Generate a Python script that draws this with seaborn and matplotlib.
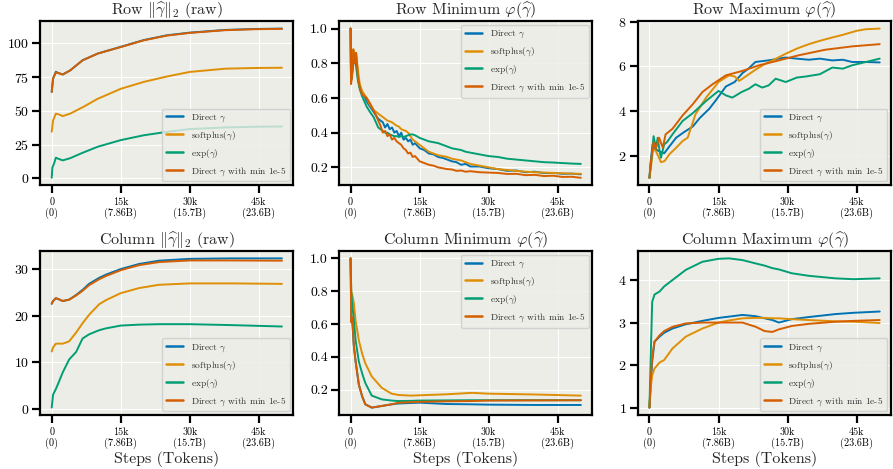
import numpy as np
import pandas as pd
import matplotlib
matplotlib.use("Agg")
import matplotlib.pyplot as plt
import seaborn as sns

# ---------------------------------------------------------------- labels
methods = [r"Direct $\gamma$", r"softplus($\gamma$)", r"exp($\gamma$)",
           r"Direct $\gamma$ with min 1e-5"]
titles = [r"Row $\|\widehat{\gamma}\|_2$ (raw)",
          r"Row Minimum $\varphi(\widehat{\gamma})$",
          r"Row Maximum $\varphi(\widehat{\gamma})$",
          r"Column $\|\widehat{\gamma}\|_2$ (raw)",
          r"Column Minimum $\varphi(\widehat{\gamma})$",
          r"Column Maximum $\varphi(\widehat{\gamma})$"]
tick_steps = [0, 15000, 30000, 45000]
tick_labels = ["0\n(0)", "15k\n(7.86B)", "30k\n(15.7B)", "45k\n(23.6B)"]

# ---------------------------------------------------------------- row norm (steps in k)
rn_steps = [0, 0.3, 0.9, 1.5, 2.4, 4, 6.7, 10, 15, 20, 25, 30, 37.7, 44, 50]
rn_direct = [64, 74, 79, 78, 77, 80, 87.5, 92.5, 97.5, 102.5, 106, 108, 110, 110.7, 111]
rn_soft = [34.6, 43, 48, 47.5, 46.2, 48, 52.7, 59, 66.4, 71.5, 75.5, 78.9, 81.3, 81.8, 82]
rn_exp_steps = [0, 0.15, 0.5, 0.9, 1.5, 2.4, 4, 6.7, 10, 15, 20, 25, 30, 37.7, 44, 50]
rn_exp = [0.5, 8, 11, 15.4, 14.5, 13.4, 15, 19, 23.5, 28.4, 32, 34.5, 36.6, 37.8, 38.3, 38.5]
rn_min = [64, 74, 78.5, 78, 77, 80, 87.5, 92.5, 97.3, 102.3, 105.8, 107.8, 109.8, 110.5, 110.8]

# ---------------------------------------------------------------- row minimum
rmin_steps = [0, 0.1, 0.3, 0.6, 0.9, 1.2, 1.6, 2.0, 2.5, 3.0, 3.5, 4.2, 5, 5.5, 6, 6.5,
              7, 7.5, 8, 8.5, 9, 9.5, 10, 10.5, 11, 11.5, 12, 12.5, 13, 13.5, 14, 15,
              16, 17, 18, 19, 20, 21, 22, 23, 24, 25, 26, 28, 30, 32, 34, 36, 38, 40,
              42, 44, 46, 48, 50]
rmin_direct = [1.0, 0.70, 0.72, 0.86, 0.80, 0.84, 0.72, 0.66, 0.63, 0.61, 0.58, 0.55,
               0.52, 0.50, 0.48, 0.47, 0.46, 0.43, 0.45, 0.42, 0.43, 0.40, 0.41, 0.38,
               0.40, 0.36, 0.37, 0.35, 0.36, 0.33, 0.34, 0.31, 0.30, 0.28, 0.275, 0.26,
               0.255, 0.245, 0.235, 0.23, 0.215, 0.22, 0.205, 0.205, 0.195, 0.19, 0.18,
               0.182, 0.172, 0.175, 0.167, 0.168, 0.163, 0.164, 0.16]
rmin_soft = [1.0, 0.72, 0.74, 0.88, 0.83, 0.86, 0.76, 0.68, 0.64, 0.62, 0.60, 0.56,
             0.53, 0.52, 0.51, 0.50, 0.49, 0.48, 0.47, 0.465, 0.46, 0.45, 0.44, 0.435,
             0.42, 0.415, 0.41, 0.40, 0.38, 0.36, 0.35, 0.33, 0.31, 0.29, 0.28, 0.27,
             0.265, 0.26, 0.25, 0.245, 0.24, 0.23, 0.22, 0.21, 0.20, 0.19, 0.185, 0.18,
             0.175, 0.172, 0.17, 0.168, 0.166, 0.164, 0.163]
rmin_exp = [1.0, 0.70, 0.73, 0.80, 0.85, 0.78, 0.70, 0.65, 0.61, 0.58, 0.55, 0.52,
            0.49, 0.46, 0.43, 0.42, 0.41, 0.40, 0.40, 0.39, 0.385, 0.38, 0.38, 0.375,
            0.38, 0.375, 0.38, 0.385, 0.39, 0.39, 0.385, 0.37, 0.36, 0.35, 0.345, 0.34,
            0.33, 0.32, 0.31, 0.305, 0.30, 0.29, 0.285, 0.275, 0.265, 0.26, 0.25, 0.245,
            0.24, 0.235, 0.23, 0.228, 0.225, 0.222, 0.22]
rmin_min = [1.0, 0.68, 0.72, 0.88, 0.80, 0.86, 0.72, 0.66, 0.62, 0.61, 0.60, 0.57,
            0.53, 0.50, 0.47, 0.44, 0.40, 0.41, 0.38, 0.39, 0.36, 0.37, 0.35, 0.34,
            0.33, 0.31, 0.30, 0.28, 0.285, 0.26, 0.265, 0.235, 0.225, 0.215, 0.21,
            0.20, 0.195, 0.19, 0.188, 0.18, 0.182, 0.175, 0.178, 0.172, 0.17, 0.168,
            0.162, 0.163, 0.155, 0.157, 0.15, 0.152, 0.145, 0.146, 0.14]

# ---------------------------------------------------------------- row maximum
rmax_direct_steps = [0, 0.3, 0.7, 1.2, 2.0, 3.2, 4.3, 5.8, 7.5, 9.4, 11, 13, 14.5,
                     16.6, 18.5, 20.2, 21.5, 23, 25, 26.7, 28, 29.6, 32, 34.6, 37,
                     39.7, 42, 44, 47, 50]
rmax_direct = [1.0, 1.8, 2.5, 2.3, 2.2, 2.1, 2.4, 2.8, 3.05, 3.3, 3.7, 4.1, 4.5,
               5.1, 5.3, 5.7, 5.9, 6.2, 6.25, 6.3, 6.35, 6.4, 6.35, 6.3, 6.35,
               6.27, 6.3, 6.2, 6.2, 6.18]
rmax_soft_steps = [0, 0.4, 0.8, 1.4, 2.5, 3.3, 4.3, 5.8, 7.2, 8.3, 10, 12.3, 15, 17.3,
                   18.5, 19.5, 21.6, 23, 25, 27.5, 29.6, 32, 34.6, 37, 39.7, 42, 45,
                   47, 50]
rmax_soft = [1.0, 1.6, 2.3, 2.2, 1.7, 1.75, 2.05, 2.35, 2.65, 2.8, 3.85, 4.6, 5.3, 5.6,
             5.55, 5.35, 5.65, 5.85, 6.1, 6.35, 6.57, 6.8, 7.0, 7.15, 7.3, 7.42, 7.6,
             7.67, 7.7]
rmax_exp_steps = [0, 0.3, 0.6, 0.9, 1.4, 1.8, 2.2, 2.5, 3.2, 3.8, 5.0, 7.2, 9.4, 12.3,
                  15, 16.6, 18, 20, 21.6, 23, 24.5, 25.9, 27.4, 29.6, 32, 34, 37, 39.7,
                  42, 44, 47, 50]
rmax_exp = [1.0, 1.6, 2.2, 2.87, 2.35, 2.8, 2.2, 1.9, 2.5, 2.6, 2.95, 3.55, 3.9, 4.45,
            4.9, 4.7, 4.6, 4.85, 5.0, 5.2, 5.05, 5.15, 5.45, 5.3, 5.5, 5.55, 5.65,
            5.95, 5.9, 6.05, 6.2, 6.35]
rmax_min_steps = [0, 0.3, 0.9, 1.4, 2.1, 2.9, 3.5, 5.0, 7.2, 9.4, 11.5, 13.7, 16.6,
                  20.2, 23.8, 28.1, 32.4, 38.2, 44, 50]
rmax_min = [1.0, 1.7, 2.6, 2.3, 2.8, 2.35, 2.95, 3.2, 3.8, 4.3, 4.85, 5.2, 5.6, 5.8,
            6.05, 6.27, 6.5, 6.75, 6.9, 7.0]

# ---------------------------------------------------------------- column norm
cn_steps = [0, 0.3, 0.9, 1.5, 2.4, 3.8, 5.3, 6.7, 8.1, 10.3, 11.8, 15, 19, 23.3, 30,
            39, 50]
cn_direct = [22.6, 23.2, 23.8, 23.6, 23.2, 23.5, 24.5, 25.6, 26.9, 28.2, 28.9, 30.1,
             31.2, 31.9, 32.3, 32.4, 32.4]
cn_soft = [12.3, 13.2, 14.0, 14.0, 14.0, 14.5, 16.4, 18.4, 20.2, 22.5, 23.4, 24.9,
           26.0, 26.7, 27.0, 27.0, 26.9]
cn_exp = [0.2, 3.0, 4.2, 5.6, 7.8, 10.6, 12.2, 15.1, 16.0, 16.9, 17.3, 17.9, 18.1,
          18.2, 18.2, 18.0, 17.7]
cn_min = [22.6, 23.2, 23.8, 23.6, 23.2, 23.5, 24.4, 25.4, 26.6, 27.9, 28.6, 29.85,
          30.95, 31.6, 31.95, 31.95, 31.9]

# ---------------------------------------------------------------- column minimum
cmin_steps = [0, 0.15, 0.35, 0.7, 1.1, 1.8, 2.5, 3.2, 4.6, 6.8, 8.9, 10.4, 13, 15,
              20.7, 26.4, 30, 40, 50]
cmin_direct = [1.0, 0.62, 0.63, 0.47, 0.37, 0.23, 0.16, 0.11, 0.09, 0.10, 0.11,
               0.115, 0.118, 0.12, 0.112, 0.11, 0.108, 0.106, 0.106]
cmin_soft = [1.0, 0.80, 0.78, 0.73, 0.62, 0.50, 0.42, 0.36, 0.28, 0.21, 0.175, 0.167,
             0.163, 0.165, 0.171, 0.18, 0.175, 0.17, 0.163]
cmin_exp = [1.0, 0.79, 0.72, 0.63, 0.50, 0.37, 0.30, 0.24, 0.163, 0.14, 0.133, 0.13,
            0.131, 0.133, 0.134, 0.135, 0.135, 0.135, 0.135]
cmin_min = [1.0, 0.61, 0.64, 0.47, 0.37, 0.23, 0.16, 0.11, 0.09, 0.10, 0.11, 0.12,
            0.123, 0.125, 0.128, 0.13, 0.133, 0.134, 0.135]

# ---------------------------------------------------------------- column maximum
cmax_steps = [0, 0.3, 0.6, 1.1, 2.2, 3.2, 5.0, 7.9, 11.5, 15, 17.3, 20.2, 23.1, 25.0,
              26.7, 28.1, 30.9, 34.6, 40.4, 44.3, 50]
cmax_direct = [1.0, 1.6, 2.08, 2.55, 2.67, 2.76, 2.86, 2.96, 3.04, 3.11, 3.14, 3.18,
               3.15, 3.1, 3.06, 3.0, 3.08, 3.13, 3.2, 3.23, 3.26]
cmax_soft = [1.0, 1.5, 1.76, 1.92, 2.06, 2.12, 2.39, 2.67, 2.86, 3.0, 3.05, 3.1, 3.11,
             3.11, 3.1, 3.1, 3.08, 3.06, 3.03, 3.02, 2.99]
cmax_exp = [1.0, 2.31, 3.49, 3.66, 3.73, 3.85, 4.0, 4.24, 4.43, 4.5, 4.51, 4.47, 4.39,
            4.34, 4.28, 4.25, 4.16, 4.1, 4.04, 4.02, 4.04]
cmax_min = [1.0, 1.7, 2.2, 2.55, 2.7, 2.8, 2.9, 2.98, 3.0, 3.0, 3.0, 3.0, 2.9, 2.8,
            2.78, 2.84, 2.92, 2.97, 3.02, 3.04, 3.06]

panels = [
    [(rn_steps, rn_direct), (rn_steps, rn_soft), (rn_exp_steps, rn_exp), (rn_steps, rn_min)],
    [(rmin_steps, rmin_direct), (rmin_steps, rmin_soft), (rmin_steps, rmin_exp),
     (rmin_steps, rmin_min)],
    [(rmax_direct_steps, rmax_direct), (rmax_soft_steps, rmax_soft),
     (rmax_exp_steps, rmax_exp), (rmax_min_steps, rmax_min)],
    [(cn_steps, cn_direct), (cn_steps, cn_soft), (cn_steps, cn_exp), (cn_steps, cn_min)],
    [(cmin_steps, cmin_direct), (cmin_steps, cmin_soft), (cmin_steps, cmin_exp),
     (cmin_steps, cmin_min)],
    [(cmax_steps, cmax_direct), (cmax_steps, cmax_soft), (cmax_steps, cmax_exp),
     (cmax_steps, cmax_min)],
]
legend_loc = ["lower right", "upper right", "lower right",
              "lower right", "upper right", "lower right"]
y_ticks = [[0, 25, 50, 75, 100], [0.2, 0.4, 0.6, 0.8, 1.0], [2, 4, 6, 8],
           [0, 10, 20, 30], [0.2, 0.4, 0.6, 0.8, 1.0], [1, 2, 3, 4]]

# ---------------------------------------------------------------- style
sns.set_theme(style="ticks", palette="colorblind")
plt.rcParams.update({
    "font.family": "serif",
    "font.serif": ["cmr10"],
    "mathtext.fontset": "cm",
    "axes.unicode_minus": False,
    "axes.formatter.use_mathtext": True,
    "axes.facecolor": "#ECEDE7",
    "axes.edgecolor": "black",
    "axes.linewidth": 1.6,
    "grid.color": "white",
    "grid.linewidth": 0.8,
    "xtick.major.size": 6, "ytick.major.size": 6,
    "xtick.major.width": 1.6, "ytick.major.width": 1.6,
    "xtick.color": "black", "ytick.color": "black",
})
palette = sns.color_palette("colorblind", 4)

fig, axes = plt.subplots(2, 3, figsize=(8.93, 4.69), dpi=100)
fig.subplots_adjust(left=0.045, right=0.998, top=0.955, bottom=0.115,
                    wspace=0.18, hspace=0.40)

for i, ax in enumerate(axes.flat):
    rows = []
    for name, (xs, ys) in zip(methods, panels[i]):
        for x, y in zip(xs, ys):
            rows.append({"step": x * 1000, "value": y, "method": name})
    df = pd.DataFrame(rows)
    sns.lineplot(data=df, x="step", y="value", hue="method", hue_order=methods,
                 palette=palette, estimator=None, sort=False, linewidth=1.4, ax=ax)
    ax.grid(True)
    ax.set_axisbelow(True)
    ax.set_title(titles[i], fontsize=11.5, pad=2)
    ax.set_xticks(tick_steps)
    ax.set_xticklabels(tick_labels, fontsize=7.3, linespacing=1.1)
    ax.set_yticks(y_ticks[i])
    if i in (1, 4):
        ax.set_yticklabels([f"{v:.1f}" for v in y_ticks[i]])
    ax.tick_params(axis="y", labelsize=10, pad=2)
    ax.tick_params(axis="x", pad=3)
    ax.set_ylabel("")
    if i >= 3:
        ax.set_xlabel("Steps (Tokens)", fontsize=11.5, labelpad=1)
    else:
        ax.set_xlabel("")
    ax.margins(x=0.05, y=0.05)
    handles, labels = ax.get_legend_handles_labels()
    leg = ax.legend(handles, labels, loc=legend_loc[i], fontsize=6.8,
                    frameon=True, fancybox=True, framealpha=0.8,
                    handlelength=1.8, handletextpad=0.8, borderpad=0.4,
                    labelspacing=0.55, borderaxespad=0.4)
    leg.get_frame().set_edgecolor("#CCCCCC")
    leg.get_frame().set_facecolor("#ECEDE7")
    for t in leg.get_texts():
        t.set_color("#333333")
    for line in leg.get_lines():
        line.set_linewidth(1.8)

fig.savefig("out.png", dpi=100)
